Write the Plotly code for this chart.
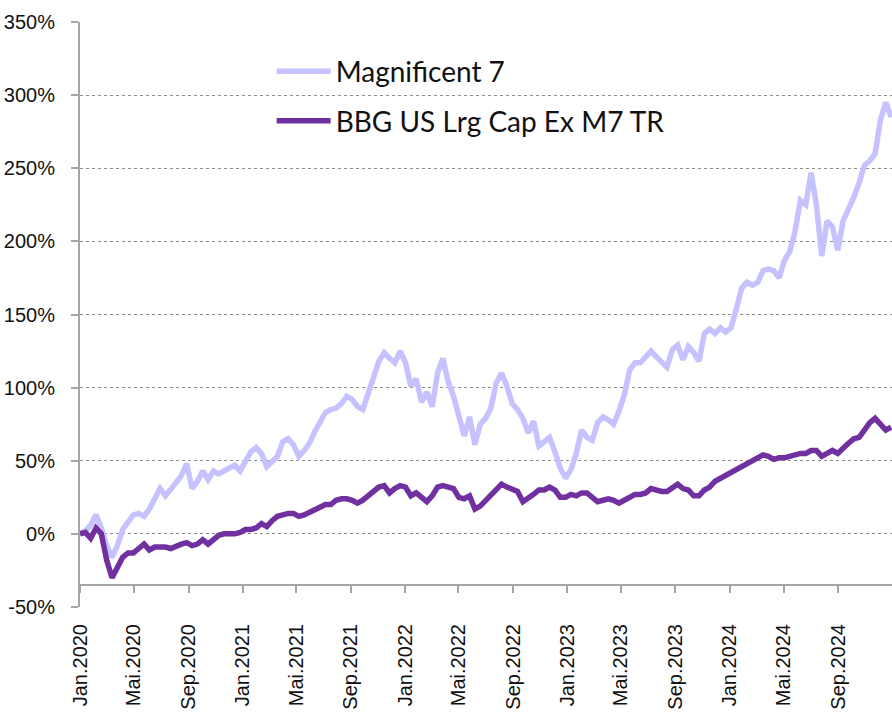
import plotly.graph_objects as go
import pandas as pd

# x sampling: one observation every 12 days starting 1 Jan 2020
START_DATE = "2020-01-01"
N_POINTS = 153
STEP = "12D"
DATES = pd.date_range(START_DATE, periods=N_POINTS, freq=STEP)

# Cumulative performance in %
M7 = [
    0, 2, 6, 13, 4, -8, -16, -8, 3, 8,
    13, 14, 12, 17, 24, 31, 26, 30, 35, 40,
    48, 31, 36, 43, 37, 43, 41, 43, 45, 47,
    43, 49, 56, 59, 55, 46, 49, 53, 63, 65,
    61, 53, 57, 62, 70, 77, 83, 85, 86, 89,
    94, 92, 87, 85, 95, 107, 118, 124, 120, 117,
    125, 117, 101, 106, 90, 97, 87, 110, 120, 104,
    94, 82, 67, 80, 61, 75, 79, 86, 103, 110,
    101, 89, 85, 79, 69, 77, 60, 63, 66, 56,
    45, 38, 44, 55, 71, 66, 64, 76, 80, 78,
    75, 84, 95, 112, 117, 117, 121, 125, 121, 117,
    114, 126, 129, 119, 128, 124, 118, 137, 140, 137,
    141, 138, 141, 154, 168, 172, 170, 172, 180, 181,
    180, 175, 187, 193, 207, 228, 225, 247, 225, 190,
    214, 210, 194, 214, 221, 230, 240, 252, 255, 260,
    283, 295, 285,
]

BBG = [
    0, 1, -3, 4, 0, -18, -30, -22, -16, -13,
    -13, -10, -7, -11, -9, -9, -9, -10, -8, -7,
    -6, -8, -7, -4, -7, -4, -1, 0, 0, 0,
    1, 3, 3, 4, 7, 5, 9, 12, 13, 14,
    14, 12, 13, 15, 17, 19, 20, 20, 23, 24,
    24, 23, 21, 23, 26, 29, 32, 33, 28, 31,
    33, 32, 26, 28, 25, 22, 26, 32, 33, 32,
    31, 25, 24, 26, 17, 19, 23, 26, 30, 34,
    32, 30, 29, 22, 24, 27, 30, 30, 32, 30,
    25, 25, 27, 26, 28, 28, 25, 22, 23, 24,
    23, 21, 23, 25, 27, 27, 28, 31, 30, 29,
    29, 32, 34, 31, 30, 26, 26, 30, 32, 36,
    38, 39, 41, 43, 45, 47, 50, 52, 54, 53,
    51, 52, 52, 53, 54, 55, 55, 57, 57, 53,
    55, 57, 55, 59, 62, 65, 66, 71, 76, 79,
    75, 71, 73,
]

SERIES_NAMES = ["Magnificent 7", "BBG US Lrg Cap Ex M7 TR"]

TICK_DATES = [
    "2020-01-01", "2020-05-01", "2020-09-01",
    "2021-01-01", "2021-05-01", "2021-09-01",
    "2022-01-01", "2022-05-01", "2022-09-01",
    "2023-01-01", "2023-05-01", "2023-09-01",
    "2024-01-01", "2024-05-01", "2024-09-01",
]
TICK_TEXT = [
    "Jan.2020", "Mai.2020", "Sep.2020",
    "Jan.2021", "Mai.2021", "Sep.2021",
    "Jan.2022", "Mai.2022", "Sep.2022",
    "Jan.2023", "Mai.2023", "Sep.2023",
    "Jan.2024", "Mai.2024", "Sep.2024",
]
Y_TICKS = [-50, 0, 50, 100, 150, 200, 250, 300, 350]
Y_TICK_TEXT = ["-50%", "0%", "50%", "100%", "150%", "200%", "250%", "300%", "350%"]
X_RANGE = ["2020-01-01", "2024-12-31"]
Y_RANGE = [-50, 350]
X_AXIS_CROSS = -35  # value where the category axis line crosses

LIGHT = "#C6C2FF"
DARK = "#7030A0"
AXIS_GREY = "#A6A6A6"
GRID_GREY = "#8C8C8C"
X_TICK_FONT = dict(family="Liberation Sans, Arial, sans-serif", size=20, color="#111111")
Y_TICK_FONT = dict(family="Liberation Sans, Arial, sans-serif", size=20, color="#111111")

fig = go.Figure()
fig.add_trace(go.Scatter(
    x=DATES, y=M7, name=SERIES_NAMES[0], mode="lines",
    line=dict(color=LIGHT, width=5.5), xaxis="x", yaxis="y",
    legendgroup="g1", hoverinfo="skip",
))
fig.add_trace(go.Scatter(
    x=DATES, y=BBG, name=SERIES_NAMES[1], mode="lines",
    line=dict(color=DARK, width=5.5), xaxis="x2", yaxis="y",
    legendgroup="g2", hoverinfo="skip",
))

fig.update_layout(
    width=892, height=712,
    margin=dict(l=80, r=0, t=22, b=105, autoexpand=False),
    paper_bgcolor="white", plot_bgcolor="white",
    showlegend=True,
    legend=dict(
        x=0.236, y=0.958, xanchor="left", yanchor="top",
        bgcolor="rgba(0,0,0,0)", borderwidth=0,
        font=dict(family="Lato, Noto Sans, sans-serif", size=28, color="#111111"),
        itemwidth=54, tracegroupgap=10,
    ),
    xaxis=dict(
        type="date", range=X_RANGE, automargin=False,
        tickmode="array", tickvals=TICK_DATES, ticktext=TICK_TEXT,
        tickangle=-90, tickfont=X_TICK_FONT,
        showline=False, showgrid=False, zeroline=False, ticks="",
        ticklabelstandoff=12,
    ),
    xaxis2=dict(
        type="date", matches="x", overlaying="x", automargin=False,
        anchor="free",
        position=(X_AXIS_CROSS - Y_RANGE[0]) / (Y_RANGE[1] - Y_RANGE[0]),
        side="bottom",
        tickmode="array", tickvals=TICK_DATES, showticklabels=False,
        showline=True, linecolor=AXIS_GREY, linewidth=2,
        ticks="outside", ticklen=7, tickcolor=AXIS_GREY, tickwidth=1.5,
        showgrid=False, zeroline=False,
    ),
    yaxis=dict(
        range=Y_RANGE, automargin=False,
        tickmode="array", tickvals=Y_TICKS, ticktext=Y_TICK_TEXT,
        tickfont=Y_TICK_FONT,
        showgrid=True, gridcolor=GRID_GREY, griddash="dot", gridwidth=1,
        zeroline=False,
        showline=True, linecolor=AXIS_GREY, linewidth=2,
        ticks="outside", ticklen=7, tickcolor=AXIS_GREY, tickwidth=1.5,
        ticklabelstandoff=12,
    ),
)

fig.write_html(
    "out.html",
    config={"displayModeBar": False},
    post_script="document.body.style.margin='0px';document.body.style.overflow='hidden';",
)
